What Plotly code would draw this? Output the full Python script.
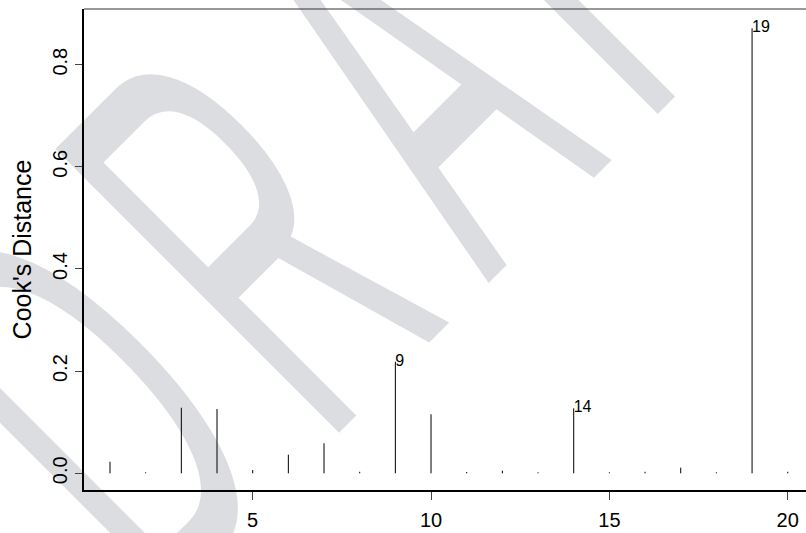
import plotly.graph_objects as go

# ---- data ----
obs = list(range(1, 21))
cooks = [0.0227, 0.002, 0.1284, 0.1259, 0.0065, 0.0364, 0.0587, 0.003, 0.2185, 0.1155,
         0.0026, 0.005, 0.002, 0.1272, 0.002, 0.003, 0.011, 0.002, 0.8712, 0.003]
labelled = [9, 14, 19]
x_ticks = [5, 10, 15, 20]
y_ticks = [0.0, 0.2, 0.4, 0.6, 0.8]
y_title = "Cook's Distance"
watermark = "DRAFT"

# ---- spikes (R type = "h") ----
spike_x, spike_y = [], []
for xi, yi in zip(obs, cooks):
    spike_x += [xi, xi, None]
    spike_y += [0, yi, None]
lab_y = [cooks[i - 1] for i in labelled]

FONT = "Liberation Sans"

fig = go.Figure()

# watermark, drawn as bar text so it sits beneath the data
WM_X, WM_BASE, WM_H = 9.185, 0.71, 0.104
fig.add_trace(go.Bar(
    x=[WM_X], y=[WM_H], base=[WM_BASE], width=0.01,
    marker=dict(color="rgba(0,0,0,0)", line=dict(width=0)),
    text=[watermark], textposition="inside", insidetextanchor="middle",
    textangle=-45, constraintext="none", cliponaxis=False,
    textfont=dict(family=FONT, size=583, color="#dcdde0"),
    hoverinfo="skip",
))

fig.add_trace(go.Scatter(
    x=spike_x, y=spike_y, mode="lines",
    line=dict(color="black", width=1), hoverinfo="skip",
))

fig.add_trace(go.Scatter(
    x=labelled, y=lab_y, mode="text", text=[str(v) for v in labelled],
    textposition="middle right",
    textfont=dict(family=FONT, size=16, color="black"), hoverinfo="skip",
))

fig.update_layout(
    width=806, height=533,
    margin=dict(l=84, r=0, t=9, b=43, pad=0),
    paper_bgcolor="white", plot_bgcolor="rgba(0,0,0,0)",
    showlegend=False,
    font=dict(family=FONT, color="black"),
    xaxis=dict(
        range=[0.2711, 20.512], tickvals=x_ticks, ticks="outside", ticklen=8,
        tickwidth=1, tickcolor="#444", showline=True, linewidth=2, linecolor="black",
        showgrid=False, zeroline=False, tickfont=dict(size=20), ticklabelstandoff=3,
    ),
    yaxis=dict(
        range=[-0.0327, 0.909], tickvals=y_ticks, tickformat=".1f", ticks="outside",
        ticklen=7, tickwidth=1, tickcolor="#444", showline=True, linewidth=2,
        linecolor="black", showgrid=False, zeroline=False, tickangle=-90,
        tickfont=dict(size=20),
        title=dict(text=y_title, font=dict(size=25), standoff=10),
    ),
    shapes=[dict(type="line", xref="paper", yref="paper", x0=0, x1=1, y0=1, y1=1,
                 line=dict(color="#333", width=1))],
)

js = """
var gd = document.getElementById('{plot_id}');
var t = gd.querySelector('text.bartext');
if (t) {
  t.style.letterSpacing = '96px';
  var bb = t.getBBox();
  var cx = bb.x + bb.width / 2, cy = bb.y + bb.height / 2;
  var tr = t.getAttribute('transform') || '';
  t.setAttribute('transform', tr + ' translate(' + cx + ',' + cy + ') scale(0.45,1) translate(' + (-cx) + ',' + (-cy) + ')');
}
"""
fig.write_html("out.html", post_script=js)
